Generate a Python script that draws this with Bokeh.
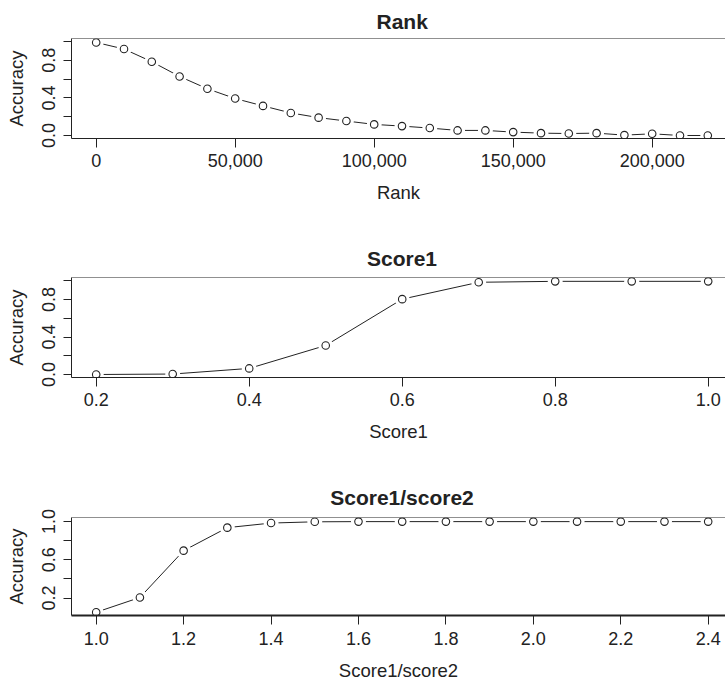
from bokeh.plotting import figure
from bokeh.layouts import column
from bokeh.models import (FixedTicker, PrintfTickFormatter, NumeralTickFormatter,
                          Range1d, Span)
from bokeh.embed import file_html
from bokeh.resources import INLINE

# ---------------- data ----------------
rank_x = [0, 10000, 20000, 30000, 40000, 50000, 60000, 70000, 80000, 90000,
          100000, 110000, 120000, 130000, 140000, 150000, 160000, 170000,
          180000, 190000, 200000, 210000, 220000]
rank_acc = [0.99, 0.92, 0.785, 0.628, 0.497, 0.393, 0.315, 0.24, 0.19, 0.154,
            0.118, 0.10, 0.079, 0.054, 0.054, 0.036, 0.025, 0.021, 0.025,
            0.004, 0.018, 0.0, 0.0]

score1_x = [0.2, 0.3, 0.4, 0.5, 0.6, 0.7, 0.8, 0.9, 1.0]
score1_acc = [0.0, 0.005, 0.065, 0.31, 0.805, 0.985, 0.995, 0.995, 0.995]

ratio_x = [1.0, 1.1, 1.2, 1.3, 1.4, 1.5, 1.6, 1.7, 1.8, 1.9, 2.0, 2.1, 2.2, 2.3, 2.4]
ratio_acc = [0.052, 0.206, 0.695, 0.935, 0.983, 0.996, 0.998, 0.998, 0.998,
             0.998, 0.998, 0.998, 0.998, 0.998, 0.998]

rank_xticks = [0, 50000, 100000, 150000, 200000]
score1_xticks = [0.2, 0.4, 0.6, 0.8, 1.0]
ratio_xticks = [1.0, 1.2, 1.4, 1.6, 1.8, 2.0, 2.2, 2.4]

titles = ["Rank", "Score1", "Score1/score2"]
xlabels = ["Rank", "Score1", "Score1/score2"]
ylabel = "Accuracy"

# ---------------- style ----------------
FONT = "Liberation Sans"
INK = "#222222"
W = 725


def panel(x, y, title, xlabel, xr, yr, xticks, xfmt, ymaj, ymin,
          height, top, bottom, title_standoff, title_offset, xtick_standoff,
          xlab_standoff, bottom_lw=1):
    p = figure(width=W, height=height, title=title,
               x_range=Range1d(*xr), y_range=Range1d(*yr),
               output_backend="svg", toolbar_location=None,
               min_border_left=71, min_border_right=0,
               min_border_top=top, min_border_bottom=bottom)
    p.outline_line_color = None
    p.background_fill_color = "white"
    p.border_fill_color = "white"
    p.xgrid.visible = False
    p.ygrid.visible = False

    p.title.align = "left"
    p.title.offset = title_offset
    p.title.text_font = FONT
    p.title.text_font_size = "21px"
    p.title.text_font_style = "bold"
    p.title.text_color = INK
    p.title.standoff = title_standoff

    # lines with gaps around points (R type="b")
    p.line(x, y, line_color=INK, line_width=1)
    p.scatter(x, y, size=15, marker="circle", fill_color="white", line_color=None)
    p.scatter(x, y, size=7.5, marker="circle", fill_color="white",
              line_color=INK, line_width=1.1)

    # top border of the box
    p.add_layout(Span(location=yr[1], dimension="width", line_color=INK, line_width=1))

    xa = p.xaxis[0]
    xa.ticker = FixedTicker(ticks=xticks)
    xa.formatter = xfmt
    xa.axis_line_color = INK
    xa.axis_line_width = bottom_lw
    xa.major_tick_line_color = INK
    xa.major_tick_out = 9
    xa.major_tick_in = 0
    xa.minor_tick_line_color = None
    xa.major_label_standoff = xtick_standoff
    xa.major_label_text_font = FONT
    xa.major_label_text_font_size = "18px"
    xa.major_label_text_color = INK
    xa.axis_label = xlabel
    xa.axis_label_standoff = xlab_standoff
    xa.axis_label_text_font = FONT
    xa.axis_label_text_font_size = "18.5px"
    xa.axis_label_text_font_style = "normal"
    xa.axis_label_text_color = INK

    ya = p.yaxis[0]
    ya.ticker = FixedTicker(ticks=ymaj, minor_ticks=ymin)
    ya.formatter = PrintfTickFormatter(format="%.1f")
    ya.axis_line_color = INK
    ya.major_tick_line_color = INK
    ya.minor_tick_line_color = INK
    ya.major_tick_out = 8
    ya.major_tick_in = 0
    ya.minor_tick_out = 8
    ya.minor_tick_in = 0
    ya.major_label_orientation = "vertical"
    ya.major_label_standoff = 8
    ya.major_label_text_font = FONT
    ya.major_label_text_font_size = "18px"
    ya.major_label_text_color = INK
    ya.axis_label = ylabel
    ya.axis_label_standoff = 13
    ya.axis_label_text_font = FONT
    ya.axis_label_text_font_size = "18.5px"
    ya.axis_label_text_font_style = "normal"
    ya.axis_label_text_color = INK
    return p


p1 = panel(rank_x, rank_acc, titles[0], xlabels[0], (-8885, 226367), (-0.032, 1.032),
           rank_xticks, NumeralTickFormatter(format="0,0"), [0.0, 0.4, 0.8], [0.2, 0.6, 1.0],
           228, 38, 90, 12, 305, 6, 12)
p2 = panel(score1_x, score1_acc, titles[1], xlabels[1], (0.1677, 1.0226), (-0.032, 1.036),
           score1_xticks, PrintfTickFormatter(format="%.1f"), [0.0, 0.4, 0.8], [0.2, 0.6, 1.0],
           236, 49, 87, 15, 295.5, 6, 12)
p3 = panel(ratio_x, ratio_acc, titles[2], xlabels[2], (0.9435, 2.4396), (0.018, 1.041),
           ratio_xticks, PrintfTickFormatter(format="%.1f"), [0.2, 0.6, 1.0], [0.4, 0.8],
           219, 53, 67, 17, 258.7, 7, 12, bottom_lw=2)

layout = column(p1, p2, p3, spacing=0)
open("out.html", "w").write(file_html(layout, INLINE))
